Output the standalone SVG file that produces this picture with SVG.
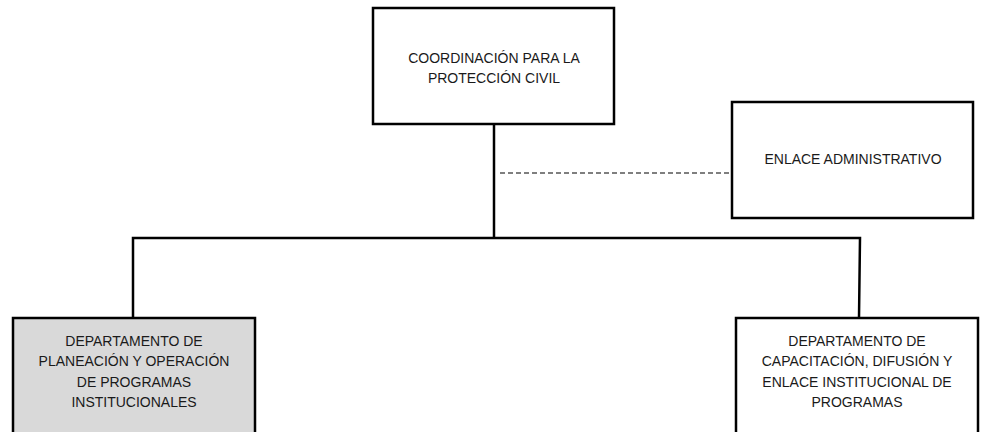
<svg xmlns="http://www.w3.org/2000/svg" width="981" height="432" viewBox="0 0 981 432">
<style>
.box{fill:#fff;stroke:#000;stroke-width:2.5}
.gray{fill:#d9d9d9}
.t{font-family:"Liberation Sans",Arial,sans-serif;font-size:14px;fill:#1a1a1a;text-anchor:middle}
.ln{stroke:#000;stroke-width:2.5;fill:none}
.dash{stroke:#000;stroke-width:1.2;stroke-dasharray:5 3;fill:none}
</style>
<rect width="981" height="432" fill="#fff"/>
<g id="connectors">
<line class="ln" x1="494" y1="124" x2="494" y2="238"/>
<polyline class="ln" points="133,318 133,238 860,238 859,318"/>
<line class="dash" x1="500" y1="173" x2="732" y2="173"/>
</g>
<g id="coordinacion">
<rect class="box" x="373" y="8" width="241" height="116"/>
<text class="t" x="494" y="63">COORDINACIÓN PARA LA</text>
<text class="t" x="494" y="83">PROTECCIÓN CIVIL</text>
</g>
<g id="enlace">
<rect class="box" x="732" y="102" width="241" height="116"/>
<text class="t" x="853" y="164">ENLACE ADMINISTRATIVO</text>
</g>
<g id="planeacion">
<rect class="box gray" x="13" y="318" width="242" height="130"/>
<text class="t" x="134" y="346">DEPARTAMENTO DE</text>
<text class="t" x="134" y="366">PLANEACIÓN Y OPERACIÓN</text>
<text class="t" x="134" y="387">DE PROGRAMAS</text>
<text class="t" x="134" y="407">INSTITUCIONALES</text>
</g>
<g id="capacitacion">
<rect class="box" x="736" y="318" width="242" height="130"/>
<text class="t" x="857" y="346">DEPARTAMENTO DE</text>
<text class="t" x="857" y="366">CAPACITACIÓN, DIFUSIÓN Y</text>
<text class="t" x="857" y="387">ENLACE INSTITUCIONAL DE</text>
<text class="t" x="857" y="407">PROGRAMAS</text>
</g>
</svg>
